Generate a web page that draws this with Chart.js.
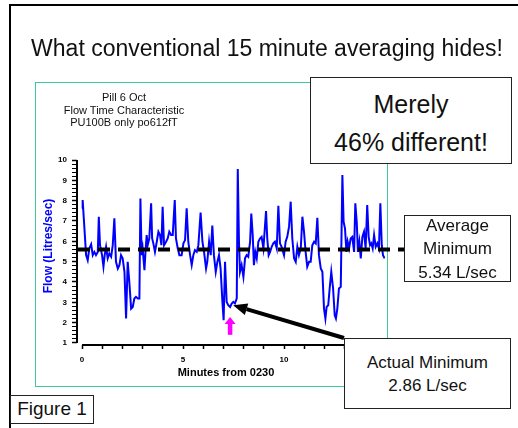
<!DOCTYPE html>
<html>
<head>
<meta charset="utf-8">
<script src="https://cdn.jsdelivr.net/npm/chart.js@4.4.1/dist/chart.umd.min.js"></script>
<style>
  body { margin:0; background:#fff; font-family:'Liberation Sans', Arial, sans-serif; color:#111; }
  #page { position:relative; width:518px; height:428px; overflow:hidden; }
  .abs { position:absolute; }
  .box { position:absolute; box-sizing:border-box; border:1px solid #222; background:#fff; }
  .txt { position:absolute; text-align:center; white-space:nowrap; }
</style>
</head>
<body>
<div id="page">
  <div class="abs" style="left:9px;top:4px;width:540px;height:460px;border:2px solid #000;"></div>
  <div class="abs" style="left:35px;top:82px;width:351px;height:303px;border:1px solid #3cc8a0;"></div>
  <canvas id="c" class="abs" width="518" height="428" style="left:0;top:0;"></canvas>

  <div class="txt" style="left:0;width:534px;top:37px;font-size:23px;line-height:23px;">What conventional 15 minute averaging hides!</div>
  <div class="txt" style="left:24px;width:200px;top:91px;font-size:11px;line-height:12.5px;">Pill 6 Oct<br>Flow Time Characteristic<br>PU100B only po612fT</div>

  <div class="box" style="left:310px;top:77px;width:202px;height:87px;"></div>
  <div class="txt" style="left:310px;width:202px;top:85px;font-size:25px;line-height:38.3px;">Merely<br>46% different!</div>

  <div class="box" style="left:404px;top:215px;width:107px;height:67px;"></div>
  <div class="txt" style="left:404px;width:107px;top:214px;font-size:17px;line-height:23.3px;">Average<br>Minimum<br>5.34 L/sec</div>

  <div class="box" style="left:344px;top:338px;width:167px;height:71px;"></div>
  <div class="txt" style="left:344px;width:167px;top:351px;font-size:17px;line-height:23.3px;">Actual Minimum<br>2.86 L/sec</div>

  <div class="box" style="left:10px;top:395px;width:84px;height:29px;"></div>
  <div class="txt" style="left:10px;width:84px;top:397px;font-size:19px;line-height:23px;">Figure 1</div>
</div>
<script>
// flow readings, minutes after 02:30
var minutes = [
  0.00,0.03,0.20,0.28,0.36,0.45,0.53,0.61,0.69,0.78,0.83,0.89,0.99,1.06,1.12,1.19,1.27,1.35,1.44,1.52,
  1.60,1.68,1.77,1.85,1.93,2.01,2.10,2.18,2.26,2.34,2.43,2.51,2.59,2.67,2.76,2.84,2.89,2.95,3.00,3.09,
  3.14,3.20,3.25,3.33,3.42,3.47,3.53,3.61,3.70,3.78,3.86,3.93,3.99,4.06,4.16,4.24,4.32,4.41,4.49,4.59,
  4.65,4.74,4.82,
  4.93,5.02,5.10,5.18,5.26,5.35,5.43,5.51,5.59,5.68,5.76,5.87,5.96,6.04,6.14,6.20,6.29,6.37,6.45,6.53,
  6.62,6.70,6.78,6.86,6.95,7.01,7.08,7.16,7.24,7.33,7.41,7.49,7.57,7.66,7.71,7.77,7.82,7.90,7.99,8.07,
  8.15,8.23,8.32,8.38,8.45,8.51,8.58,8.65,8.73,8.81,8.89,8.98,9.11,9.17,9.24,9.31,9.39,9.47,9.55,9.64,
  9.72,9.80,9.88,
  10.00,10.08,10.16,10.25,10.33,10.41,10.50,10.58,10.66,10.74,10.83,10.91,10.99,11.07,11.15,11.24,11.32,11.40,11.49,11.57,
  11.65,11.73,11.82,11.90,11.98,12.05,12.11,12.19,12.26,12.34,12.43,12.51,12.57,12.64,12.72,12.81,12.89,12.95,13.02,13.09,
  13.15,13.22,13.30,13.38,13.47,13.53,13.60,13.66,13.73,13.80,13.88,13.96,14.04,14.12,14.19,14.26,14.32,14.39,14.46,14.54,
  14.62,14.70,14.77,14.84,14.90,14.98
];
var flow = [
  7.62,8.03,5.32,5.07,5.65,5.85,5.32,5.48,5.32,5.48,7.21,5.81,5.32,4.75,5.32,5.73,5.16,5.40,5.24,5.81,
  7.13,4.99,4.66,4.83,5.32,5.16,4.50,2.20,4.99,4.01,2.69,2.77,3.19,3.27,3.19,3.19,8.11,5.32,5.65,4.58,
  5.48,6.31,5.81,6.14,7.87,6.14,5.90,5.48,5.98,6.47,6.31,5.81,7.70,5.81,5.98,6.14,6.47,6.31,6.31,8.03,
  6.14,5.65,5.32,
  5.32,5.90,6.06,7.62,5.98,5.32,4.83,5.32,5.57,5.48,5.81,7.42,5.98,5.48,4.66,4.99,5.98,5.32,6.77,5.32,
  4.50,4.99,5.32,4.66,3.02,2.12,4.99,3.02,2.86,2.77,2.94,3.02,2.94,3.19,9.56,5.98,4.50,4.83,4.25,5.16,
  5.32,5.24,5.98,7.37,6.31,4.83,5.48,5.16,5.98,6.14,6.22,5.65,7.49,6.14,5.32,5.48,5.73,5.90,5.98,5.65,
  7.75,5.90,5.73,
  5.32,5.98,6.22,6.72,7.95,6.14,5.16,4.99,5.73,5.32,5.65,7.21,6.47,5.48,4.75,4.99,4.99,5.81,5.98,5.90,
  7.16,5.32,4.66,4.50,2.69,2.20,2.77,2.86,3.68,4.50,3.68,2.36,2.20,2.69,3.68,3.76,9.26,6.96,6.63,5.48,
  5.98,5.65,6.14,6.22,5.48,7.87,6.96,5.48,5.98,5.16,6.22,6.47,5.65,7.78,6.22,5.81,5.90,5.65,6.31,5.73,
  5.90,5.65,7.87,5.81,5.32,5.16
];
// dashed "average" level, spans a bit past the axis on both sides
var avgLine = [-0.2, 15.95];
var avgLevel = [5.6, 5.6];
var xTicks = [0,1,2,3,4,5,6,7,8,9,10,11,12,13,14,15];
var xLabels = [0,5,10,15];
var yTicks = [];
for (var t = 10; t <= 100; t += 2) yTicks.push(t / 10);
var yLabels = [1,2,3,4,5,6,7,8,9,10];
// where the two arrows point (chart units)
var minPoint = {x: 7.48, y: 2.86};
var pinkArrow = {x: 7.33, from: 1.4, to: 2.28};

Chart.defaults.font.family = "'Liberation Sans', Arial, sans-serif";

function drawArrow(ctx, x1, y1, x2, y2, w, hl, hw, col) {
  var a = Math.atan2(y2 - y1, x2 - x1);
  var bx = x2 - hl * Math.cos(a), by = y2 - hl * Math.sin(a);
  ctx.strokeStyle = col; ctx.lineWidth = w; ctx.lineCap = 'butt';
  ctx.beginPath(); ctx.moveTo(x1, y1); ctx.lineTo(bx, by); ctx.stroke();
  ctx.fillStyle = col;
  ctx.beginPath(); ctx.moveTo(x2, y2);
  ctx.lineTo(bx + hw / 2 * Math.sin(a), by - hw / 2 * Math.cos(a));
  ctx.lineTo(bx - hw / 2 * Math.sin(a), by + hw / 2 * Math.cos(a));
  ctx.closePath(); ctx.fill();
}

var extras = {
  id: 'extras',
  afterDraw: function(chart) {
    var ctx = chart.ctx, xs = chart.scales.x, ys = chart.scales.y;
    ctx.save();
    // axis lines
    ctx.strokeStyle = '#000'; ctx.lineWidth = 2;
    ctx.beginPath();
    ctx.moveTo(chart.chartArea.left, ys.getPixelForValue(1));
    ctx.lineTo(chart.chartArea.left, ys.getPixelForValue(10));
    ctx.stroke();
    ctx.beginPath();
    ctx.moveTo(xs.getPixelForValue(0), chart.chartArea.bottom);
    ctx.lineTo(xs.getPixelForValue(15), chart.chartArea.bottom);
    ctx.stroke();
    // axis titles (the original sits them a little off centre)
    ctx.textAlign = 'center'; ctx.textBaseline = 'middle';
    ctx.fillStyle = '#000';
    ctx.font = "bold 11px 'Liberation Sans', Arial, sans-serif";
    ctx.fillText('Minutes from 0230', 226, 373);
    ctx.save();
    ctx.translate(49, 246); ctx.rotate(-Math.PI / 2);
    ctx.fillStyle = '#0000ff';
    ctx.font = "bold 12px 'Liberation Sans', Arial, sans-serif";
    ctx.fillText('Flow (Litres/sec)', 0, 0);
    ctx.restore();
    // pink arrow under the minimum
    var px = xs.getPixelForValue(pinkArrow.x);
    drawArrow(ctx, px, ys.getPixelForValue(pinkArrow.from), px, ys.getPixelForValue(pinkArrow.to), 4.5, 7, 11, '#ff00ff');
    // black arrow from the "Actual Minimum" box
    drawArrow(ctx, 344, 338, xs.getPixelForValue(minPoint.x), ys.getPixelForValue(minPoint.y), 4, 14, 12, '#000');
    ctx.restore();
  }
};

var ctx = document.getElementById('c').getContext('2d');
var chart = new Chart(ctx, {
  type: 'line',
  data: {
    datasets: [{
      data: minutes.map(function(m, i) { return {x: m, y: flow[i]}; }),
      borderColor: '#0000ff',
      borderWidth: 2,
      pointRadius: 0,
      tension: 0,
      order: 1
    }, {
      data: avgLine.map(function(m, i) { return {x: m, y: avgLevel[i]}; }),
      borderColor: '#000',
      borderWidth: 4,
      borderDash: [12, 8],
      pointRadius: 0,
      clip: false,
      order: 0
    }]
  },
  options: {
    responsive: false,
    animation: false,
    layout: { padding: { left: 0, top: 160, right: 133, bottom: 38 } },
    plugins: { legend: { display: false }, tooltip: { enabled: false } },
    scales: {
      x: {
        type: 'linear', min: -0.25, max: 15,
        afterBuildTicks: function(s) { s.ticks = xTicks.map(function(v) { return {value: v}; }); },
        afterFit: function(s) { s.height = 45; },
        ticks: {
          autoSkip: false, maxRotation: 0, padding: 6, color: '#000',
          font: { size: 8, weight: 'bold' },
          callback: function(v) { return xLabels.indexOf(v) >= 0 ? String(v) : ''; }
        },
        grid: { drawOnChartArea: false, drawTicks: true, tickLength: 4, tickColor: '#000', tickWidth: 1.5 },
        border: { display: false }
      },
      y: {
        min: 0.9, max: 10,
        afterBuildTicks: function(s) { s.ticks = yTicks.map(function(v) { return {value: v}; }); },
        afterFit: function(s) { s.width = 77; },
        ticks: {
          autoSkip: false, padding: 5, color: '#000',
          font: { size: 8, weight: 'bold' },
          callback: function(v) { return yLabels.indexOf(v) >= 0 ? String(v) : ''; }
        },
        grid: {
          drawOnChartArea: false, drawTicks: true, tickLength: 5, tickColor: '#000',
          tickWidth: function(c) { return yLabels.indexOf(c.tick.value) >= 0 ? 1.5 : 1; }
        },
        border: { display: false }
      }
    }
  },
  plugins: [extras]
});
</script>
</body>
</html>
